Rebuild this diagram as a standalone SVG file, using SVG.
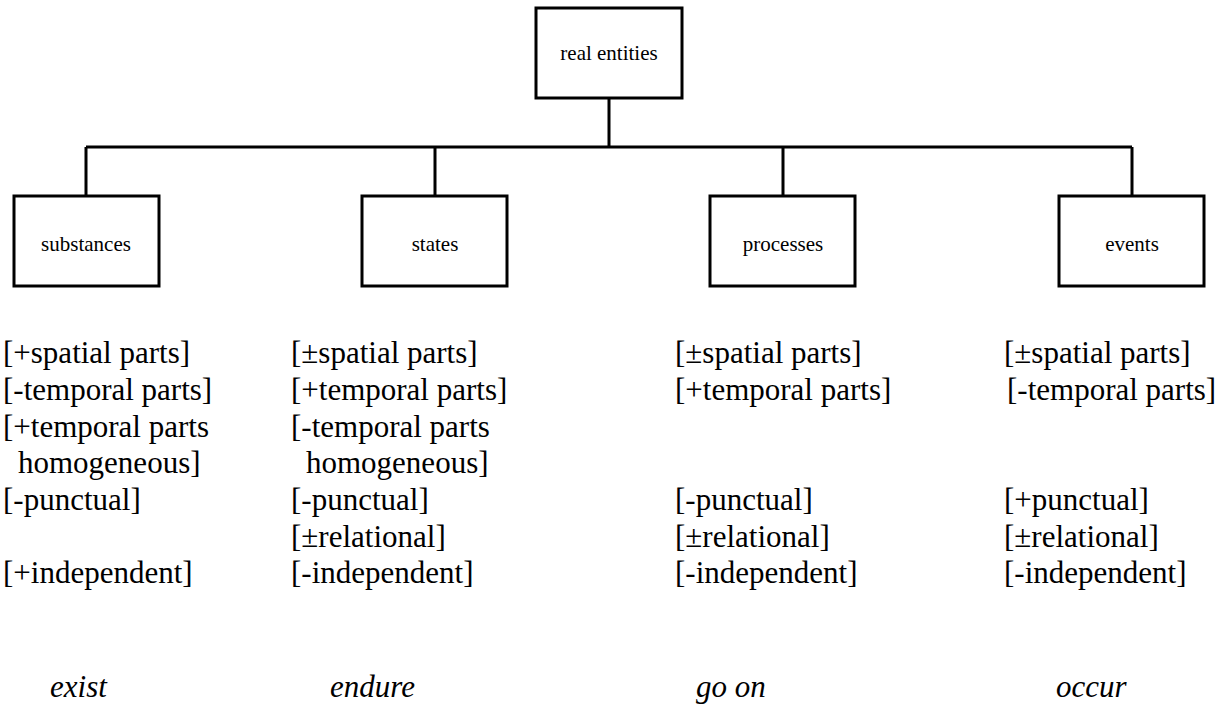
<svg xmlns="http://www.w3.org/2000/svg" width="1227" height="709" viewBox="0 0 1227 709">
<style>
.box{fill:#fff;stroke:#000;stroke-width:3}
.ln{fill:none;stroke:#000;stroke-width:3}
text{font-family:'Liberation Serif','Times New Roman','DejaVu Serif',serif;fill:#000}
.lbl{font-size:21px;text-anchor:middle}
.ft{font-size:31px}
.it{font-size:31px;font-style:italic}
</style>
<rect width="1227" height="709" fill="#fff"/>
<g id="connectors">
<path class="ln" d="M609 98V147M86 147H1132M86 147V196M435 147V196M783 147V196M1132 147V196"/>
</g>
<g id="real-entities"><rect class="box" x="536" y="8" width="146" height="90"/><text class="lbl" x="609" y="60">real entities</text></g>
<g id="substances"><rect class="box" x="14" y="196" width="145" height="90"/><text class="lbl" x="86" y="251">substances</text></g>
<g id="states"><rect class="box" x="362" y="196" width="145" height="90"/><text class="lbl" x="435" y="251">states</text></g>
<g id="processes"><rect class="box" x="710" y="196" width="145" height="90"/><text class="lbl" x="783" y="251">processes</text></g>
<g id="events"><rect class="box" x="1059" y="196" width="145" height="90"/><text class="lbl" x="1132" y="251">events</text></g>
<g id="features-substances">
<text class="ft" x="3" y="363">[+spatial parts]</text>
<text class="ft" x="3" y="400">[-temporal parts]</text>
<text class="ft" x="3" y="437">[+temporal parts</text>
<text class="ft" x="18" y="473">homogeneous]</text>
<text class="ft" x="3" y="510">[-punctual]</text>
<text class="ft" x="3" y="583">[+independent]</text>
</g>
<g id="features-states">
<text class="ft" x="291" y="363">[±spatial parts]</text>
<text class="ft" x="291" y="400">[+temporal parts]</text>
<text class="ft" x="291" y="437">[-temporal parts</text>
<text class="ft" x="306" y="473">homogeneous]</text>
<text class="ft" x="291" y="510">[-punctual]</text>
<text class="ft" x="291" y="547">[±relational]</text>
<text class="ft" x="291" y="583">[-independent]</text>
</g>
<g id="features-processes">
<text class="ft" x="675" y="363">[±spatial parts]</text>
<text class="ft" x="675" y="400">[+temporal parts]</text>
<text class="ft" x="675" y="510">[-punctual]</text>
<text class="ft" x="675" y="547">[±relational]</text>
<text class="ft" x="675" y="583">[-independent]</text>
</g>
<g id="features-events">
<text class="ft" x="1004" y="363">[±spatial parts]</text>
<text class="ft" x="1007" y="400">[-temporal parts]</text>
<text class="ft" x="1004" y="510">[+punctual]</text>
<text class="ft" x="1004" y="547">[±relational]</text>
<text class="ft" x="1004" y="583">[-independent]</text>
</g>
<g id="verbs">
<text class="it" x="50" y="697">exist</text>
<text class="it" x="330" y="697">endure</text>
<text class="it" x="696" y="697">go on</text>
<text class="it" x="1056" y="697">occur</text>
</g>
</svg>
